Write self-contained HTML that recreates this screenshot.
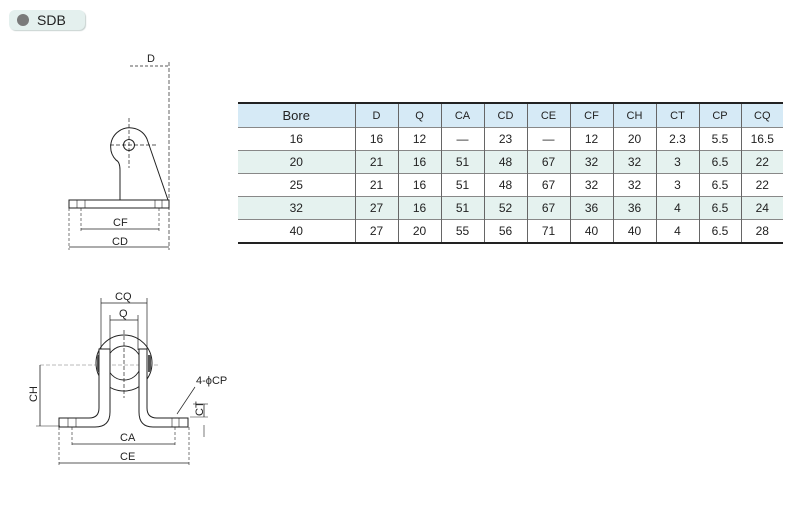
<!DOCTYPE html>
<html><head><meta charset="utf-8"><style>
body{margin:0;width:790px;height:510px;background:#fff;overflow:hidden;font-family:"Liberation Sans",sans-serif;}
.badge{position:absolute;left:9px;top:10px;width:76px;height:20px;background:#e4f0ee;border-radius:6px;box-shadow:1px 1px 1px #c8d2d0;}
.badge .dot{position:absolute;left:8px;top:4px;width:12px;height:12px;border-radius:50%;background:#7a7a7a;}
.badge span{position:absolute;left:28px;top:2px;font-size:14px;color:#222;}
table{position:absolute;left:238px;top:102px;border-collapse:collapse;font-size:12px;color:#222;border-top:2px solid #222;border-bottom:2px solid #222;}
td{border-left:1px solid #666;border-top:1px solid #888;text-align:center;height:22px;padding:0;}
td:first-child{border-left:none;}
tr.h td{background:#d6eaf6;height:23px;font-size:11px;}
tr.h td:first-child{font-size:13px;}
tr.a td{background:#e5f2ef;}
</style></head><body>
<div class="badge"><div class="dot"></div><span>SDB</span></div>
<svg width="790" height="510" style="position:absolute;left:0;top:0" font-family="Liberation Sans" font-size="11" fill="none" stroke="#222">
<line x1="130" y1="66" x2="168" y2="66" stroke-dasharray="3,2" stroke-width="0.8"/>
<line x1="169" y1="62" x2="169" y2="250" stroke-dasharray="4,2" stroke-width="0.7"/>
<text x="147" y="62" fill="#222" stroke="none">D</text>
<path d="M120 200 L120 170 Q120 162 116 160 A19 19 0 1 1 147 139 L168 200" stroke-width="1"/>
<circle cx="129" cy="145" r="5.5" stroke-width="1"/>
<line x1="110" y1="145" x2="156" y2="145" stroke-dasharray="4,2" stroke-width="0.7"/>
<line x1="129" y1="118" x2="129" y2="168" stroke-dasharray="4,2" stroke-width="0.7"/>
<rect x="69" y="200" width="100" height="8" stroke-width="1"/>
<line x1="77" y1="200" x2="77" y2="208" stroke-width="0.6"/><line x1="85" y1="200" x2="85" y2="208" stroke-width="0.6"/>
<line x1="155" y1="200" x2="155" y2="208" stroke-width="0.6"/><line x1="162" y1="200" x2="162" y2="208" stroke-width="0.6"/>
<line x1="81" y1="208" x2="81" y2="232" stroke-dasharray="3,2" stroke-width="0.6"/>
<line x1="159" y1="208" x2="159" y2="232" stroke-dasharray="3,2" stroke-width="0.6"/>
<line x1="69" y1="208" x2="69" y2="250" stroke-dasharray="3,2" stroke-width="0.6"/>
<line x1="81" y1="229" x2="159" y2="229" stroke-width="0.8"/>
<line x1="69" y1="247" x2="169" y2="247" stroke-width="0.8"/>
<text x="113" y="226" fill="#222" stroke="none">CF</text>
<text x="112" y="245" fill="#222" stroke="none">CD</text>
<line x1="101" y1="298" x2="101" y2="350" stroke-width="0.7"/><line x1="147" y1="298" x2="147" y2="350" stroke-width="0.7"/>
<line x1="110" y1="315" x2="110" y2="350" stroke-width="0.7"/><line x1="138" y1="315" x2="138" y2="350" stroke-width="0.7"/>
<line x1="101" y1="303" x2="147" y2="303" stroke-width="0.8"/>
<line x1="110" y1="320" x2="138" y2="320" stroke-width="0.8"/>
<text x="115" y="300" fill="#222" stroke="none">CQ</text>
<text x="119" y="317" fill="#222" stroke="none">Q</text>
<circle cx="124" cy="363" r="28" stroke-width="1"/>
<circle cx="124" cy="363" r="17" stroke-width="0.9"/>
<line x1="124" y1="330" x2="124" y2="398" stroke-dasharray="4,2" stroke-width="0.7"/>
<line x1="40" y1="365" x2="160" y2="365" stroke-dasharray="4,2" stroke-width="0.5" stroke="#777"/>
<rect x="97" y="355" width="3" height="17" fill="#555" stroke="none"/>
<rect x="148" y="355" width="3" height="17" fill="#555" stroke="none"/>
<path d="M99 349 L99 408 Q99 418 89 418 L59 418 L59 427 L95 427 Q110 427 110 412 L110 349 Z" fill="#fff" stroke-width="1"/>
<path d="M147 349 L147 408 Q147 418 157 418 L188 418 L188 427 L153 427 Q139 427 139 412 L139 349 Z" fill="#fff" stroke-width="1"/>
<line x1="68" y1="418" x2="68" y2="427" stroke-width="0.6"/><line x1="76" y1="418" x2="76" y2="427" stroke-width="0.6"/>
<line x1="172" y1="418" x2="172" y2="427" stroke-width="0.6"/><line x1="179" y1="418" x2="179" y2="427" stroke-width="0.6"/>
<line x1="40" y1="365" x2="40" y2="426" stroke-width="0.8"/>
<line x1="36" y1="426" x2="60" y2="426" stroke-width="0.6"/>
<text transform="translate(37,402) rotate(-90)" fill="#222" stroke="none">CH</text>
<line x1="193" y1="404" x2="208" y2="404" stroke-width="0.6"/>
<line x1="190" y1="417" x2="208" y2="417" stroke-width="0.6"/>
<line x1="204" y1="404" x2="204" y2="417" stroke-width="0.8"/>
<line x1="204" y1="425" x2="204" y2="437" stroke-width="0.6"/>
<text transform="translate(203,416) rotate(-90)" fill="#222" stroke="none">CT</text>
<text x="196" y="384" fill="#222" stroke="none">4-ϕCP</text>
<line x1="195" y1="387" x2="177" y2="414" stroke-width="0.7"/>
<line x1="72" y1="427" x2="72" y2="447" stroke-dasharray="3,2" stroke-width="0.6"/>
<line x1="175" y1="427" x2="175" y2="447" stroke-dasharray="3,2" stroke-width="0.6"/>
<line x1="59" y1="427" x2="59" y2="466" stroke-dasharray="3,2" stroke-width="0.6"/>
<line x1="189" y1="427" x2="189" y2="466" stroke-dasharray="3,2" stroke-width="0.6"/>
<line x1="72" y1="444" x2="175" y2="444" stroke-width="0.8"/>
<line x1="59" y1="463" x2="189" y2="463" stroke-width="0.8"/>
<text x="120" y="441" fill="#222" stroke="none">CA</text>
<text x="120" y="460" fill="#222" stroke="none">CE</text>
</svg>
<table>
<colgroup><col style="width:117px"><col style="width:43px"><col style="width:43px"><col style="width:43px"><col style="width:43px"><col style="width:43px"><col style="width:43px"><col style="width:43px"><col style="width:43px"><col style="width:42px"><col style="width:42px"></colgroup>
<tr class="h"><td>Bore</td><td>D</td><td>Q</td><td>CA</td><td>CD</td><td>CE</td><td>CF</td><td>CH</td><td>CT</td><td>CP</td><td>CQ</td></tr>
<tr><td>16</td><td>16</td><td>12</td><td>—</td><td>23</td><td>—</td><td>12</td><td>20</td><td>2.3</td><td>5.5</td><td>16.5</td></tr>
<tr class="a"><td>20</td><td>21</td><td>16</td><td>51</td><td>48</td><td>67</td><td>32</td><td>32</td><td>3</td><td>6.5</td><td>22</td></tr>
<tr><td>25</td><td>21</td><td>16</td><td>51</td><td>48</td><td>67</td><td>32</td><td>32</td><td>3</td><td>6.5</td><td>22</td></tr>
<tr class="a"><td>32</td><td>27</td><td>16</td><td>51</td><td>52</td><td>67</td><td>36</td><td>36</td><td>4</td><td>6.5</td><td>24</td></tr>
<tr><td>40</td><td>27</td><td>20</td><td>55</td><td>56</td><td>71</td><td>40</td><td>40</td><td>4</td><td>6.5</td><td>28</td></tr>
</table>
</body></html>
